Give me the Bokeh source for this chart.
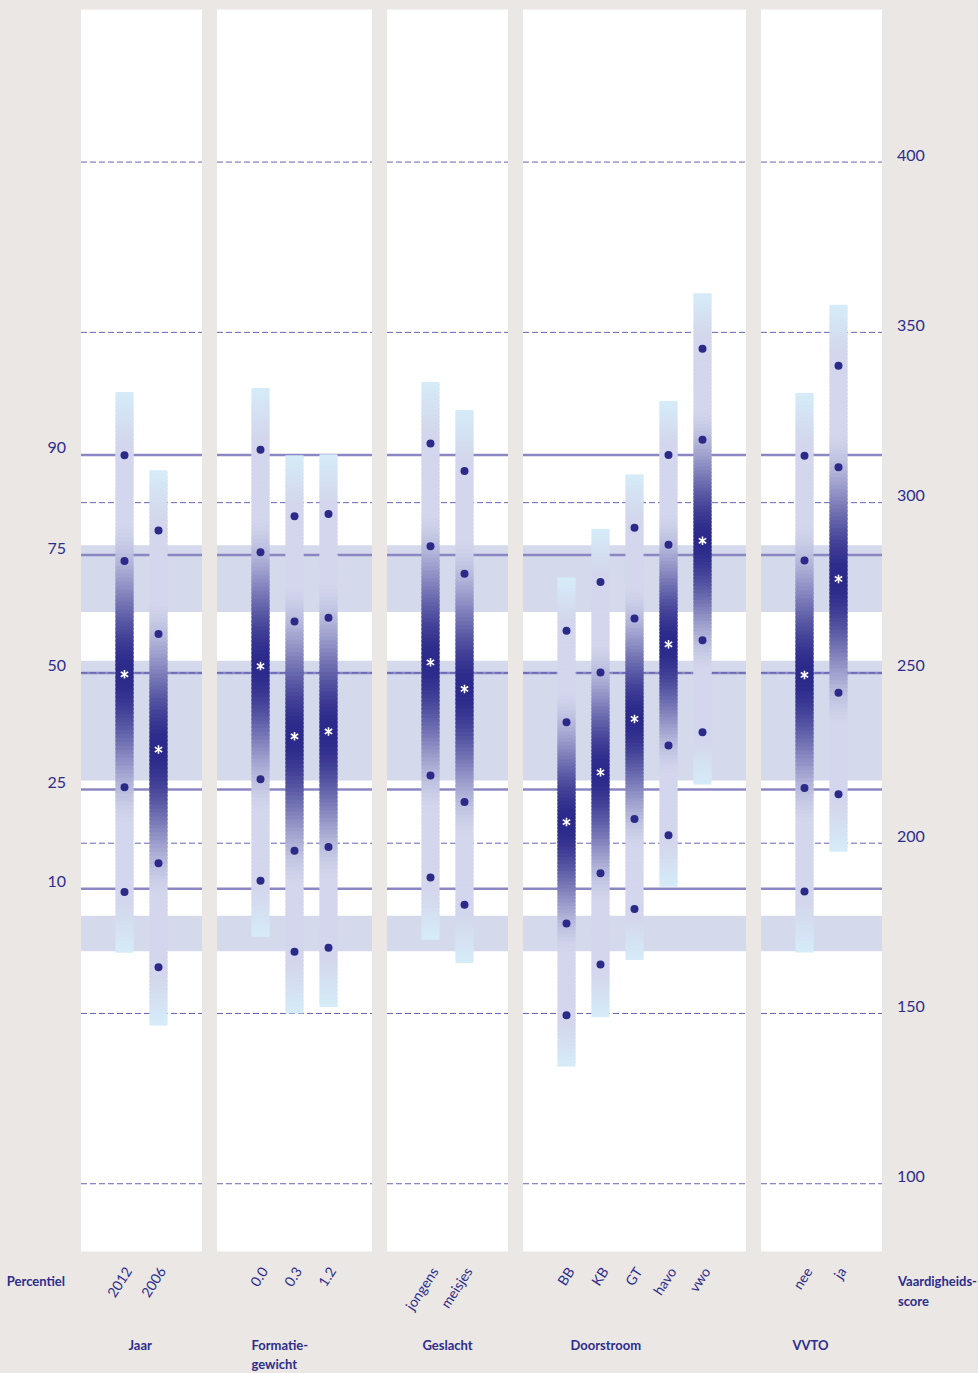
import numpy as np
from bokeh.plotting import figure
from bokeh.models import Range1d, GlobalInlineStyleSheet
from bokeh.core.properties import value
from bokeh.embed import file_html
from bokeh.resources import INLINE

# ---------------- data ----------------
groups = ["Jaar", "Formatie-\ngewicht", "Geslacht", "Doorstroom", "VVTO"]
categories = [["2012", "2006"], ["0.0", "0.3", "1.2"], ["jongens", "meisjes"],
              ["BB", "KB", "GT", "havo", "vwo"], ["nee", "ja"]]

# vaardigheidsscore per category (bar ends, percentiles 10/25/75/90, asterisk)
bar_low  = [167.8, 146.5, 172.5, 150.0, 151.9, 171.6, 164.8, 134.4, 148.9, 165.7, 187.2, 217.2, 167.9, 197.5]
p10      = [185.7, 163.6, 189.0, 168.1, 169.3, 189.9, 181.9, 149.5, 164.4, 180.7, 202.3, 232.6, 185.8, 214.4]
p25      = [216.4, 194.1, 218.8, 197.8, 198.9, 219.9, 212.1, 176.4, 191.2, 207.1, 228.7, 259.6, 216.2, 244.2]
p50      = [249.6, 227.5, 252.0, 231.4, 232.8, 253.1, 245.3, 206.2, 220.8, 236.5, 258.4, 288.8, 249.4, 277.6]
p75      = [282.9, 261.4, 285.4, 265.1, 266.2, 287.2, 279.1, 235.5, 250.1, 266.0, 287.6, 318.5, 283.0, 310.4]
p90      = [313.9, 291.8, 315.5, 296.0, 296.7, 317.4, 309.3, 262.4, 276.7, 292.6, 314.0, 345.2, 313.8, 340.2]
bar_high = [332.5, 309.5, 333.7, 313.9, 314.2, 335.4, 327.2, 278.0, 292.3, 308.3, 329.9, 361.5, 332.2, 358.1]

# reference percentile levels on the score scale
perc_labels = ["90", "75", "50", "25", "10"]
perc_scores = [314.0, 284.6, 250.0, 215.8, 186.6]
band_low  = [267.9, 218.4, 168.3]
band_high = [287.5, 253.6, 178.7]

score_ticks = [100, 150, 200, 250, 300, 350, 400]

# ---------------- style / layout ----------------
BG = "#ebe7e4"
NAVY = "#2e2d8c"
DOT = "#2b2a88"
BAND = "#d5d9ec"
PLINE = "#8b87c3"
DASH = "#5553ae"
LAV = np.array([211, 214, 236])
DARK = np.array([43, 41, 138])
CYAN = np.array([213, 236, 248])

PX = 34.0               # pixels per x unit
PAD = 43.5 / PX         # panel padding beyond outer bars
HALF = 9.0 / PX         # bar half width
PANEL_BOTTOM = 80.1
PANEL_TOP = 444.8

REG = value("Lato")
BOLD = value("Lato")

# x positions: consecutive within a group, 3 units between groups
bar_x, panel_l, panel_r, group_first = [], [], [], []
cur = 0
for cats in categories:
    xs = [cur + i for i in range(len(cats))]
    bar_x += xs
    panel_l.append(xs[0] - PAD)
    panel_r.append(xs[-1] + PAD)
    group_first.append(xs[0])
    cur = xs[-1] + 3
cat_labels = [c for cats in categories for c in cats]


def shade(t):
    t = min(max(t, 0.0), 1.0)
    x = min(t / 0.55, 1.0)
    f = 1.0 - (3 * x * x - 2 * x ** 3)
    c = LAV + (DARK - LAV) * f
    if t > 0.82:
        k = (t - 0.82) / 0.18
        c = c + (CYAN - c) * k
    c = np.clip(np.round(c), 0, 255).astype(int)
    return "#%02x%02x%02x" % tuple(c)


p = figure(width=978, height=1373,
           x_range=Range1d(-124 / PX, 854 / PX),
           y_range=Range1d(44.28, 447.45),
           output_backend="svg", toolbar_location=None,
           x_axis_location=None, y_axis_location=None,
           min_border=0, background_fill_color=BG, border_fill_color=BG,
           outline_line_color=None)
p.grid.visible = False
p.stylesheets = [GlobalInlineStyleSheet(css="body{background-color:%s;}" % BG)]

# white panels
p.quad(left=panel_l, right=panel_r, bottom=PANEL_BOTTOM, top=PANEL_TOP,
       fill_color="white", line_color=None)

# shaded bands
bl, br, bb, bt = [], [], [], []
for l, r in zip(panel_l, panel_r):
    for lo, hi in zip(band_low, band_high):
        bl.append(l); br.append(r); bb.append(lo); bt.append(hi)
p.quad(left=bl, right=br, bottom=bb, top=bt, fill_color=BAND, line_color=None)

# percentile lines
sx0, sx1, sy = [], [], []
for l, r in zip(panel_l, panel_r):
    for s in perc_scores:
        sx0.append(l); sx1.append(r); sy.append(s)
p.segment(x0=sx0, x1=sx1, y0=sy, y1=sy, line_color=PLINE, line_width=2.5)

# dashed score grid
dx0, dx1, dy = [], [], []
for l, r in zip(panel_l, panel_r):
    for s in score_ticks:
        dx0.append(l); dx1.append(r); dy.append(s)
p.segment(x0=dx0, x1=dx1, y0=dy, y1=dy, line_color=DASH, line_width=1,
          line_dash="6 3", line_alpha=0.9)

# gradient bars
N = 70
ql, qr, qb, qt, qc = [], [], [], [], []
for x, lo, mid, hi in zip(bar_x, bar_low, p50, bar_high):
    for a0, a1 in ((lo, mid), (mid, hi)):
        edges = np.linspace(a0, a1, N + 1)
        step = (a1 - a0) / N
        for i in range(N):
            a, b = edges[i], edges[i + 1]
            yc = (a + b) / 2
            t = (mid - yc) / (mid - lo) if yc < mid else (yc - mid) / (hi - mid)
            ql.append(x - HALF); qr.append(x + HALF)
            qb.append(a); qt.append(min(b + step * 0.6, hi))
            qc.append(shade(t))
p.quad(left=ql, right=qr, bottom=qb, top=qt, fill_color=qc, line_color=None)

# percentile dots
dots_x, dots_y = [], []
for x, a, b, c, d in zip(bar_x, p10, p25, p75, p90):
    for v in (a, b, c, d):
        dots_x.append(x); dots_y.append(v)
p.scatter(x=dots_x, y=dots_y, size=8, marker="circle", fill_color=DOT, line_color=None)

# asterisks (six-armed: two opposed "y" markers)
for ang in (0.0, np.pi):
    p.scatter(x=bar_x, y=p50, marker="y", size=8.5, angle=ang,
              line_color="white", line_width=1.6)

# left percentile labels
p.text(x=[panel_l[0]] * len(perc_scores), y=perc_scores, text=perc_labels,
       text_color=NAVY, text_font=REG, text_font_size="16px",
       text_align="right", text_baseline="middle", x_offset=-15, y_offset=-7)

# right score labels
p.text(x=[panel_r[-1]] * len(score_ticks), y=score_ticks,
       text=[str(s) for s in score_ticks],
       text_color=NAVY, text_font=REG, text_font_size="16px",
       text_align="left", text_baseline="middle", x_offset=15, y_offset=-7)

# category labels (rotated)
p.text(x=bar_x, y=[PANEL_BOTTOM] * len(bar_x), text=cat_labels,
       text_color=NAVY, text_font=REG, text_font_size="14px",
       angle=np.deg2rad(57), text_align="right", text_baseline="middle",
       x_offset=4, y_offset=17)

# group titles
title_dx = [4, -9, -8, 4, -12]
p.text(x=group_first, y=[PANEL_BOTTOM] * len(groups), text=groups,
       text_color=NAVY, text_font=BOLD, text_font_size="13px", text_font_style="bold",
       text_align="left", text_baseline="top", x_offset=title_dx, y_offset=85,
       text_line_height=1.2)

# axis titles
p.text(x=[panel_l[0]], y=[PANEL_BOTTOM], text=["Percentiel"],
       text_color=NAVY, text_font=BOLD, text_font_size="13px", text_font_style="bold",
       text_align="right", text_baseline="middle", x_offset=-16, y_offset=29)
p.text(x=[panel_r[-1]], y=[PANEL_BOTTOM], text=["Vaardigheids-\nscore"],
       text_color=NAVY, text_font=BOLD, text_font_size="13px", text_font_style="bold",
       text_align="left", text_baseline="top", x_offset=16, y_offset=21,
       text_line_height=1.28)

open("out.html", "w").write(file_html(p, INLINE))
